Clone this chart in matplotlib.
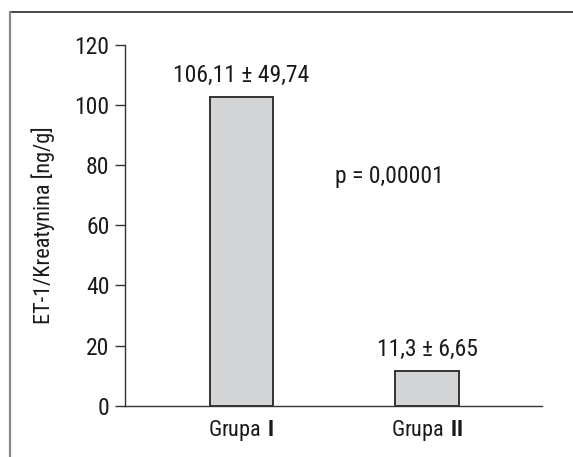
import matplotlib
matplotlib.use("Agg")
import matplotlib.pyplot as plt
from matplotlib.lines import Line2D

# ── Data ────────────────────────────────────────────────────────────────────
groups = ["Grupa$\\ \\mathbf{I}$", "Grupa$\\ \\mathbf{II}$"]
bar_heights = [102.8, 11.6]
bar_labels = ["106,11 ± 49,74", "11,3 ± 6,65"]
p_text = "p = 0,00001"
y_ticks = [0, 20, 40, 60, 80, 100, 120]

FONT = ["Roboto Condensed", "Roboto", "DejaVu Sans"]
plt.rcParams["font.family"] = FONT
plt.rcParams["mathtext.fontset"] = "custom"
plt.rcParams["mathtext.rm"] = "Roboto Condensed"
plt.rcParams["mathtext.bf"] = "Roboto Condensed:bold"
TXT = "#1a1a1a"

fig = plt.figure(figsize=(5.73, 4.57), dpi=100)
fig.patch.set_facecolor("white")
ax = fig.add_axes([0.2176, 0.1122, 0.7283, 0.7893])

x = range(len(groups))
ax.bar(x, bar_heights, width=0.34, color="#d3d4d6", edgecolor="#333333",
       linewidth=1.4, zorder=2)

for xi, h, lab in zip(x, bar_heights, bar_labels):
    ax.annotate(lab, (xi, h), xytext=(0, 7), textcoords="offset points",
                ha="center", va="bottom", fontsize=17, color=TXT)

ax.text(0.504, 76.3, p_text, ha="left", va="center", fontsize=17, color=TXT)

ax.set_xlim(-0.63, 1.62)
ax.set_ylim(0, 120)
ax.set_yticks(y_ticks)
ax.set_xticks(list(x))
ax.set_xticklabels(groups, fontsize=16, color=TXT)
ax.tick_params(axis="x", length=0, pad=9)
ax.tick_params(axis="y", length=7, width=1.0, pad=4, labelsize=17,
               colors="#333333", labelcolor=TXT)
ax.set_ylabel("ET-1/Kreatynina [ng/g]", fontsize=16, color=TXT, labelpad=14)

for side in ["top", "right"]:
    ax.spines[side].set_visible(False)
for side in ["left", "bottom"]:
    ax.spines[side].set_linewidth(1.0)
    ax.spines[side].set_color("#333333")

# frame lines (top and left only visible)
fig.add_artist(Line2D([0.0166, 1.0], [0.9737, 0.9737], transform=fig.transFigure,
                      color="#3a3a3a", linewidth=1.3))
fig.add_artist(Line2D([0.0166, 0.0166], [0.0, 0.9737], transform=fig.transFigure,
                      color="#8a8a8a", linewidth=1.6))

fig.savefig("out.png", dpi=100)
